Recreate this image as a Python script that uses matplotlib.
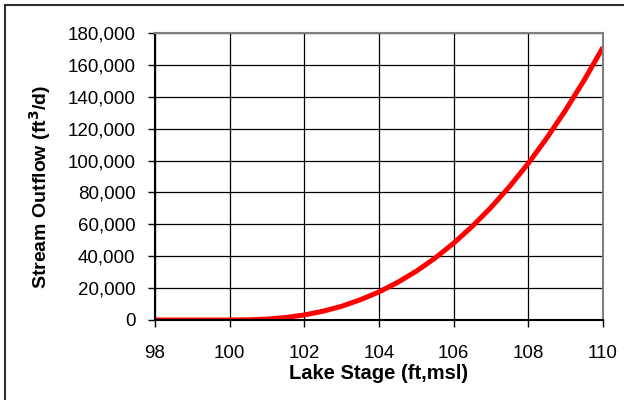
import matplotlib
matplotlib.use("Agg")
import matplotlib.pyplot as plt
from matplotlib.patches import Rectangle
from matplotlib.ticker import FuncFormatter

# lake stage (ft, msl) and stream outflow (ft3/d)
stage = [98.0, 98.5, 99.0, 99.5, 100.0, 100.5, 101.0, 101.5, 102.0, 102.5,
         103.0, 103.5, 104.0, 104.5, 105.0, 105.5, 106.0, 106.5, 107.0,
         107.5, 108.0, 108.5, 109.0, 109.5, 110.0]
outflow = [0, 0, 0, 0, 0, 100, 570, 1550, 3160, 5500,
           8600, 12700, 17600, 23600, 30600, 38800, 48200, 58800, 70600,
           83800, 98300, 114300, 131700, 150600, 171000]

x_ticks = [98, 100, 102, 104, 106, 108, 110]
y_ticks = list(range(0, 180001, 20000))

plt.rcParams['font.family'] = ['Liberation Sans', 'DejaVu Sans']

W, H = 624, 400
fig = plt.figure(figsize=(6.24, 4.0), dpi=100)
ax = fig.add_axes([155 / W, 1 - 320 / H, (603 - 155) / W, (320 - 33) / H])

# chart frame
fig.patches.append(Rectangle((5 / W, -0.1), 1.2, 1.1 - 5 / H,
                             transform=fig.transFigure, fill=False,
                             edgecolor='#303030', linewidth=1.5))

ax.plot(stage, outflow, color='#ff0000', linewidth=3.6, solid_capstyle='butt')

ax.set_xlim(98, 110)
ax.set_ylim(0, 180000)
ax.set_xticks(x_ticks)
ax.set_yticks(y_ticks)
ax.yaxis.set_major_formatter(FuncFormatter(lambda v, p: f"{int(v):,}"))
ax.grid(True, color='black', linewidth=0.9)
ax.set_axisbelow(True)
for s in ax.spines.values():
    s.set_color('#808080')
    s.set_linewidth(1.5)
ax.spines['left'].set_color('black')
ax.spines['bottom'].set_color('black')
ax.tick_params(direction='out', length=5, width=1, labelsize=13.5)
ax.tick_params(axis='y', pad=9)
ax.tick_params(axis='x', pad=13)

ax.set_xlabel('Lake Stage (ft,msl)', fontsize=14.5, fontweight='bold')
ax.set_ylabel('Stream Outflow (ft$^\\mathbf{3}$/d)', fontsize=14, fontweight='bold')
ax.xaxis.set_label_coords(0.5, (320 - 364) / (320 - 33))
ax.yaxis.set_label_coords((40 - 155) / (603 - 155), 0.465)
ax.yaxis.label.set_va('center')
ax.xaxis.label.set_va('top')

fig.savefig('out.png', dpi=100)
